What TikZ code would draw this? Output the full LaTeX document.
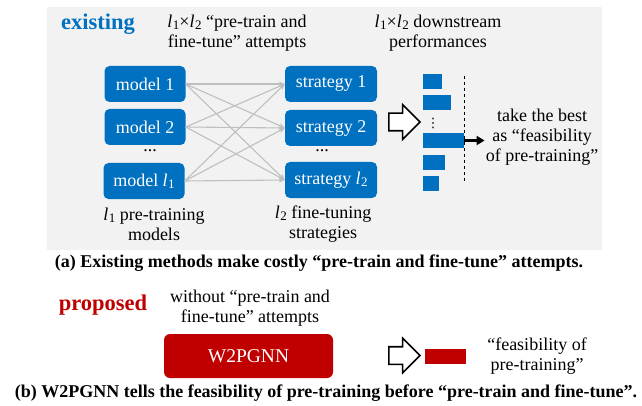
\documentclass[tikz,border=0pt]{standalone}
\usepackage{fontspec}
\setmainfont{Liberation Serif}
\newfontfamily\symfont{DejaVu Sans}
\usetikzlibrary{calc,positioning,shapes.arrows,arrows.meta}
\usepackage{xcolor}

\definecolor{exblue}{HTML}{0070C0}
\definecolor{prored}{HTML}{C00000}
\definecolor{bggray}{HTML}{F2F2F2}
\definecolor{edgegray}{HTML}{BFBFBF}

% l with a subscript
\newcommand{\lsub}[1]{\textit{l}\kern0.5pt\raisebox{-0.3ex}{\fontsize{13}{13}\selectfont #1}}

\tikzset{
    txt/.style={font=\fontsize{18}{20}\selectfont, align=center, inner sep=1pt},
    capt/.style={font=\fontsize{18}{20}\selectfont\bfseries, inner sep=0pt},
    modelbox/.style={fill=exblue, rounded corners=5pt, text=white, minimum width=81pt,
        minimum height=36pt, inner sep=0pt, font=\fontsize{18}{20}\selectfont},
    stratbox/.style={modelbox, minimum width=92pt},
    perfbar/.style={fill=exblue, anchor=west, minimum height=15pt, inner sep=0pt},
    hollowarrow/.style={single arrow, draw=black, line width=1.6pt, fill=white,
        minimum height=31pt, single arrow head extend=8.5pt, inner sep=8pt},
    attempt/.style={draw=edgegray, line width=1.1pt, -{Stealth[length=6pt,width=5pt]}}
}

\begin{document}
\begin{tikzpicture}[x=1pt, y=-1pt]
\useasboundingbox (0,0) rectangle (642,406);

% gray background of part (a)
\fill[bggray] (47,7) rectangle (602,250);

\node[txt, font=\fontsize{22.5}{24}\selectfont\bfseries, text=exblue] (existing) at (98,24) {existing};
\node[txt] (attlabel) at (237,33) {\lsub{1}×\lsub{2} “pre-train and\\fine-tune” attempts};
\node[txt] (perflabel) at (438,33) {\lsub{1}×\lsub{2} downstream\\performances};

% pre-training models
\node[modelbox] (m1) at (145,84) {model 1};
\node[modelbox] (m2) at (145,127) {model 2};
\node[txt] (mdots) at (150,151) {...};
\node[modelbox] (m3) at (144,181) {model \lsub{1}};

% fine-tuning strategies
\node[stratbox] (s1) at (331,84) {strategy 1};
\node[stratbox] (s2) at (331,128) {strategy 2};
\node[txt] (sdots) at (322,151) {...};
\node[stratbox] (s3) at (331,180) {strategy \lsub{2}};

% every model with every strategy
\foreach \i in {1,2,3} {
    \foreach \j in {1,2,3} {
        \draw[attempt] (m\i.east) -- (s\j.west);
    }
}

\node[txt] (mlabel) at (154,224) {\lsub{1} pre-training\\models};
\node[txt] (slabel) at (323,224) {\lsub{2} fine-tuning\\strategies};

\node[hollowarrow] (arrowa) at (400,122) {};

% downstream performances
\node[perfbar, minimum width=19pt] (bar1) at (423,81.5) {};
\node[perfbar, minimum width=28pt] (bar2) at (423,102.5) {};
\node[inner sep=0pt, font=\symfont\fontsize{13}{13}\selectfont] (bdots) at (433,123) {⋮};
\node[perfbar, minimum width=41pt] (bar3) at (423,140.5) {};
\node[perfbar, minimum width=22pt] (bar4) at (423,162.5) {};
\node[perfbar, minimum width=16pt] (bar5) at (423,183.5) {};
\draw[dashed, line width=0.8pt] (464,76) -- (464,183);

\node[txt] (best) at (542,137) {take the best\\as “feasibility\\of pre-training”};
\draw[line width=2.6pt, -{Triangle[length=8pt,width=9pt]}] (bar3.east) -- (bar3.east -| best.west);

\node[capt] (capa) at (319,263) {(a) Existing methods make costly “pre-train and fine-tune” attempts.};

% part (b)
\node[txt, font=\fontsize{22.5}{24}\selectfont\bfseries, text=prored] (proposed) at (103,305) {proposed};
\node[txt] (without) at (250,308) {without “pre-train and\\fine-tune” attempts};
\node[fill=prored, rounded corners=6pt, minimum width=169pt, minimum height=44pt, text=white,
    font=\fontsize{19.5}{20}\selectfont] (w2p) at (248.5,356) {W2PGNN};
\node[hollowarrow] (arrowb) at (400,355.5) {};
\node[fill=prored, minimum width=41pt, minimum height=15pt, inner sep=0pt] (redbar) at (445.5,356.5) {};
\node[txt] (feas) at (537,356) {“feasibility of\\pre-training”};

\node[capt] (capb) at (326,393) {(b) W2PGNN tells the feasibility of pre-training before “pre-train and fine-tune”.};
\end{tikzpicture}
\end{document}
